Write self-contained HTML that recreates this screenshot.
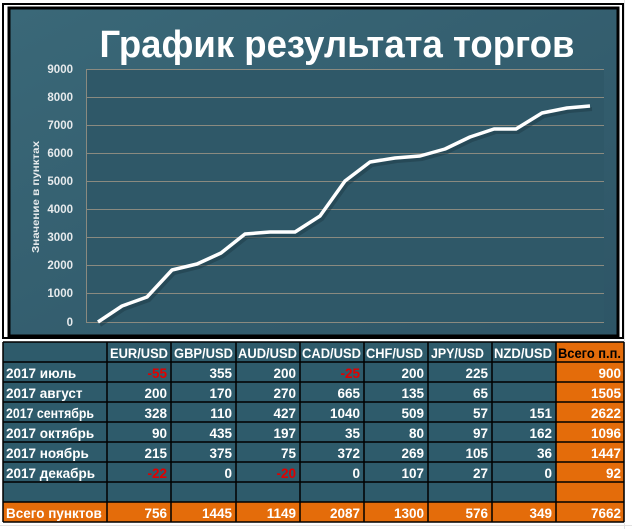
<!DOCTYPE html>
<html><head><meta charset="utf-8"><style>
html,body{margin:0;padding:0;background:#fff;}
svg{display:block;font-family:"Liberation Sans","DejaVu Sans",sans-serif;}
</style></head><body>
<svg width="632" height="529" viewBox="0 0 632 529" xmlns="http://www.w3.org/2000/svg">
<defs>
<linearGradient id="bg" x1="0" y1="0" x2="1" y2="1">
<stop offset="0" stop-color="#3a6878"/><stop offset="1" stop-color="#2e5566"/>
</linearGradient>
</defs>
<g stroke="#e2e2e2" stroke-width="1">
<line x1="0" y1="525.5" x2="632" y2="525.5"/>
<line x1="624.5" y1="0" x2="624.5" y2="529"/>
</g>
<rect x="3" y="4" width="620" height="334" fill="#fff" stroke="#000" stroke-width="2"/>
<rect x="9" y="8" width="609" height="328" fill="url(#bg)" stroke="#000" stroke-width="3"/>
<rect x="86" y="69" width="518" height="253" fill="#2f5868"/>
<text x="337" y="57" fill="#fff" font-size="38" font-weight="bold" text-anchor="middle" textLength="475" lengthAdjust="spacingAndGlyphs">График результата торгов</text>
<g stroke="#8a8a80" stroke-width="1">
<line x1="86" y1="69.5" x2="604" y2="69.5"/>
<line x1="86" y1="97.5" x2="604" y2="97.5"/>
<line x1="86" y1="125.5" x2="604" y2="125.5"/>
<line x1="86" y1="153.5" x2="604" y2="153.5"/>
<line x1="86" y1="181.5" x2="604" y2="181.5"/>
<line x1="86" y1="209.5" x2="604" y2="209.5"/>
<line x1="86" y1="237.5" x2="604" y2="237.5"/>
<line x1="86" y1="265.5" x2="604" y2="265.5"/>
<line x1="86" y1="293.5" x2="604" y2="293.5"/>
<line x1="86" y1="322.5" x2="604" y2="322.5"/>
<line x1="86.5" y1="69" x2="86.5" y2="322"/>
</g>
<g fill="#e6eaec" font-size="11.5" font-weight="bold" text-anchor="end">
<text x="73" y="73">9000</text><text x="73" y="101">8000</text><text x="73" y="129">7000</text>
<text x="73" y="157">6000</text><text x="73" y="185">5000</text><text x="73" y="213">4000</text>
<text x="73" y="241">3000</text><text x="73" y="269">2000</text><text x="73" y="297">1000</text>
<text x="73" y="326">0</text>
</g>
<text transform="translate(39,197) rotate(-90)" fill="#e6eaec" font-size="10" font-weight="bold" text-anchor="middle" textLength="112" lengthAdjust="spacingAndGlyphs">Значение  в пунктах</text>
<polyline fill="none" stroke="#1e3a46" stroke-opacity="0.5" stroke-width="4" transform="translate(2,3)" points="98,322 122,306 147,297 172,270 197,264 221,253 245,234 270,232 295,232 320,216 345,181 370,162 395,158 420,156 445,149 470,137 494,129 516,129 542,113 567,108 590,106"/>
<polyline fill="none" stroke="#fff" stroke-width="3.5" stroke-linejoin="round" points="98,322 122,306 147,297 172,270 197,264 221,253 245,234 270,232 295,232 320,216 345,181 370,162 395,158 420,156 445,149 470,137 494,129 516,129 542,113 567,108 590,106"/>
<rect x="3" y="342" width="621" height="180" fill="#2e5b6b"/>
<rect x="556" y="342" width="68" height="180" fill="#e46c0a"/>
<rect x="3" y="502" width="621" height="20" fill="#e46c0a"/>
<g stroke="#000" stroke-width="1.5">
<line x1="3" y1="342" x2="624" y2="342"/>
<line x1="3" y1="362" x2="624" y2="362"/><line x1="3" y1="382" x2="624" y2="382"/>
<line x1="3" y1="402" x2="624" y2="402"/><line x1="3" y1="422" x2="624" y2="422"/>
<line x1="3" y1="442" x2="624" y2="442"/><line x1="3" y1="462" x2="624" y2="462"/>
<line x1="3" y1="482" x2="624" y2="482"/><line x1="3" y1="502" x2="624" y2="502"/>
<line x1="3" y1="522" x2="624" y2="522"/>
<line x1="3" y1="342" x2="3" y2="522"/><line x1="107" y1="342" x2="107" y2="522"/>
<line x1="171" y1="342" x2="171" y2="522"/><line x1="236" y1="342" x2="236" y2="522"/>
<line x1="300" y1="342" x2="300" y2="522"/><line x1="364" y1="342" x2="364" y2="522"/>
<line x1="428" y1="342" x2="428" y2="522"/><line x1="492" y1="342" x2="492" y2="522"/>
<line x1="556" y1="342" x2="556" y2="522"/><line x1="624" y1="342" x2="624" y2="522"/>
</g>
<g fill="#fff" font-size="13.5" font-weight="bold">
<text x="110" y="358" textLength="58" lengthAdjust="spacingAndGlyphs">EUR/USD</text><text x="174" y="358" textLength="59" lengthAdjust="spacingAndGlyphs">GBP/USD</text><text x="238" y="358" textLength="59" lengthAdjust="spacingAndGlyphs">AUD/USD</text>
<text x="302" y="358" textLength="59" lengthAdjust="spacingAndGlyphs">CAD/USD</text><text x="366" y="358" textLength="57" lengthAdjust="spacingAndGlyphs">CHF/USD</text><text x="431" y="358" textLength="53" lengthAdjust="spacingAndGlyphs">JPY/USD</text>
<text x="494" y="358" textLength="58" lengthAdjust="spacingAndGlyphs">NZD/USD</text><text x="558" y="358" fill="#000" textLength="63" lengthAdjust="spacingAndGlyphs">Всего п.п.</text>
<text x="6" y="378">2017 июль</text><text x="6" y="398">2017 август</text><text x="6" y="418" textLength="88" lengthAdjust="spacingAndGlyphs">2017 сентябрь</text>
<text x="6" y="438">2017 октябрь</text><text x="6" y="458">2017 ноябрь</text><text x="6" y="478">2017 декабрь</text>
<text x="6" y="518">Всего пунктов</text>
</g>
<g fill="#fff" font-size="13.5" font-weight="bold" text-anchor="end">
<text x="167" y="378" fill="#e00000">-55</text><text x="232" y="378">355</text><text x="296" y="378">200</text><text x="360" y="378" fill="#e00000">-25</text><text x="424" y="378">200</text><text x="488" y="378">225</text><text x="621" y="378">900</text>
<text x="167" y="398">200</text><text x="232" y="398">170</text><text x="296" y="398">270</text><text x="360" y="398">665</text><text x="424" y="398">135</text><text x="488" y="398">65</text><text x="621" y="398">1505</text>
<text x="167" y="418">328</text><text x="232" y="418">110</text><text x="296" y="418">427</text><text x="360" y="418">1040</text><text x="424" y="418">509</text><text x="488" y="418">57</text><text x="552" y="418">151</text><text x="621" y="418">2622</text>
<text x="167" y="438">90</text><text x="232" y="438">435</text><text x="296" y="438">197</text><text x="360" y="438">35</text><text x="424" y="438">80</text><text x="488" y="438">97</text><text x="552" y="438">162</text><text x="621" y="438">1096</text>
<text x="167" y="458">215</text><text x="232" y="458">375</text><text x="296" y="458">75</text><text x="360" y="458">372</text><text x="424" y="458">269</text><text x="488" y="458">105</text><text x="552" y="458">36</text><text x="621" y="458">1447</text>
<text x="167" y="478" fill="#e00000">-22</text><text x="232" y="478">0</text><text x="296" y="478" fill="#e00000">-20</text><text x="360" y="478">0</text><text x="424" y="478">107</text><text x="488" y="478">27</text><text x="552" y="478">0</text><text x="621" y="478">92</text>
<text x="167" y="518">756</text><text x="232" y="518">1445</text><text x="296" y="518">1149</text><text x="360" y="518">2087</text><text x="424" y="518">1300</text><text x="488" y="518">576</text><text x="552" y="518">349</text><text x="621" y="518">7662</text>
</g>
</svg>
</body></html>
